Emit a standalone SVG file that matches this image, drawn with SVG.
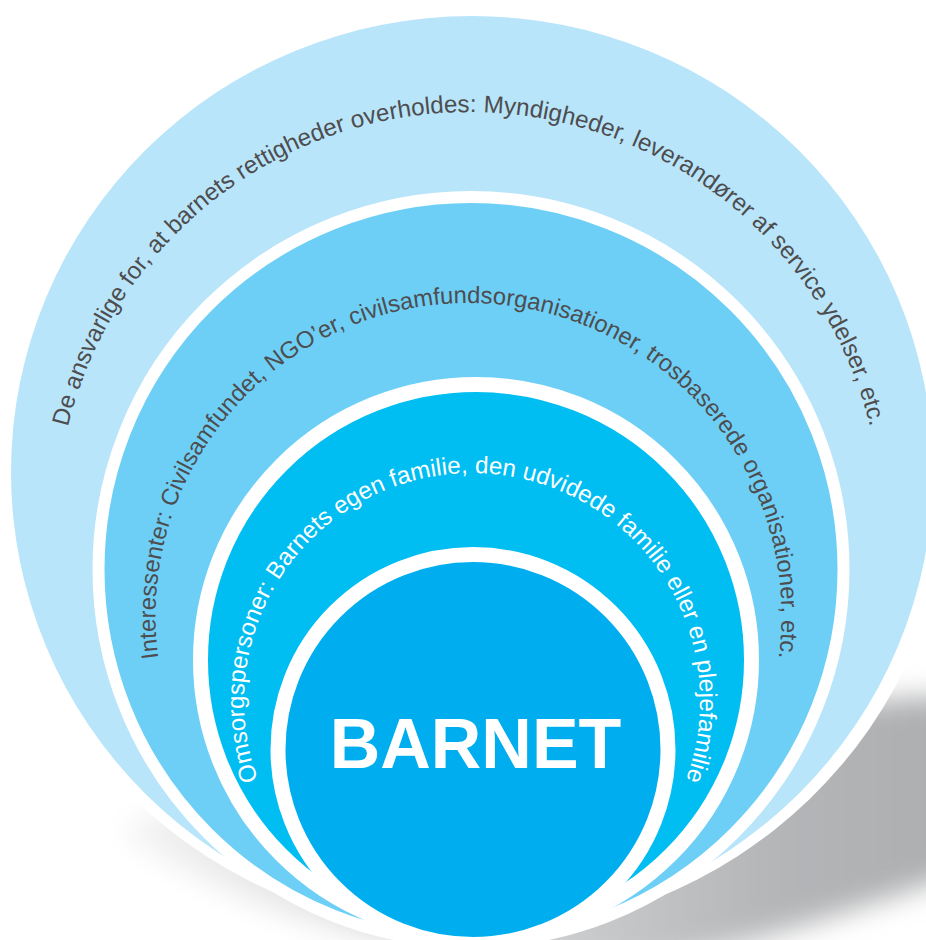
<svg xmlns="http://www.w3.org/2000/svg" width="926" height="940" viewBox="0 0 926 940">
  <style>
    .ring { stroke: #FFFFFF; }
    .lbl { font-family: "Liberation Sans", Arial, sans-serif; font-size: 24.2px; }
    .mid { font-size: 23.8px; }
    .dark { fill: #4D4D4F; }
    .light { fill: #FFFFFF; }
    .title { font-family: "Liberation Sans", Arial, sans-serif; font-size: 70px; font-weight: bold; fill: #FFFFFF; }
  </style>
  <defs>
    <filter id="blur" x="-20%" y="-50%" width="140%" height="200%">
      <feGaussianBlur stdDeviation="14"/>
    </filter>
    <linearGradient id="shadeGrad" gradientUnits="userSpaceOnUse" x1="130" y1="0" x2="926" y2="0">
      <stop offset="0" stop-color="#F2F2F2"/>
      <stop offset="0.4" stop-color="#D8D9DA"/>
      <stop offset="0.8" stop-color="#B5B6B8"/>
      <stop offset="1" stop-color="#AEAFB1"/>
    </linearGradient>
    <path id="arcOuter" d="M152.6,790.5 A413,413 0 1 1 785.4,790.5"/>
    <path id="arcMid" d="M228.7,817.2 A313,313 0 1 1 708.3,817.2"/>
    <path id="arcInner" d="M297.3,847.6 A228,228 0 1 1 646.7,847.6"/>
  </defs>
  <rect width="926" height="940" fill="#FFFFFF"/>
  <g id="shadow">
    <path d="M120,830 C250,770 500,730 700,712 L1000,692 L1000,858 C900,895 790,935 650,965 C450,975 250,920 120,830 Z" fill="url(#shadeGrad)" filter="url(#blur)"/>
  </g>
  <g id="node-outer">
    <ellipse cx="472" cy="472" rx="478" ry="462" fill="#FFFFFF"/>
    <ellipse cx="472" cy="472" rx="461" ry="456" fill="#B9E5FA"/>
    <text class="lbl dark"><textPath href="#arcOuter" startOffset="50%" text-anchor="middle">De ansvarlige for, at barnets rettigheder overholdes: Myndigheder, leverandører af service ydelser, etc.</textPath></text>
  </g>
  <g id="node-middle">
    <circle cx="471" cy="569.5" r="372.5" fill="#6DCFF6" class="ring" stroke-width="12"/>
    <text class="lbl mid dark"><textPath href="#arcMid" startOffset="50%" text-anchor="middle">Interessenter: Civilsamfundet, NGO’er, civilsamfundsorganisationer, trosbaserede organisationer, etc.</textPath></text>
  </g>
  <g id="node-inner">
    <circle cx="476" cy="660" r="275.5" fill="#00BDF2" class="ring" stroke-width="15"/>
    <text class="lbl light"><textPath href="#arcInner" startOffset="50%" text-anchor="middle">Omsorgspersoner: Barnets egen familie, den udvidede familie eller en plejefamilie</textPath></text>
  </g>
  <g id="node-barnet">
    <circle cx="473" cy="749.5" r="195" fill="#00AEEF" class="ring" stroke-width="15"/>
    <text class="title" x="475.5" y="768" text-anchor="middle">BARNET</text>
  </g>
</svg>
